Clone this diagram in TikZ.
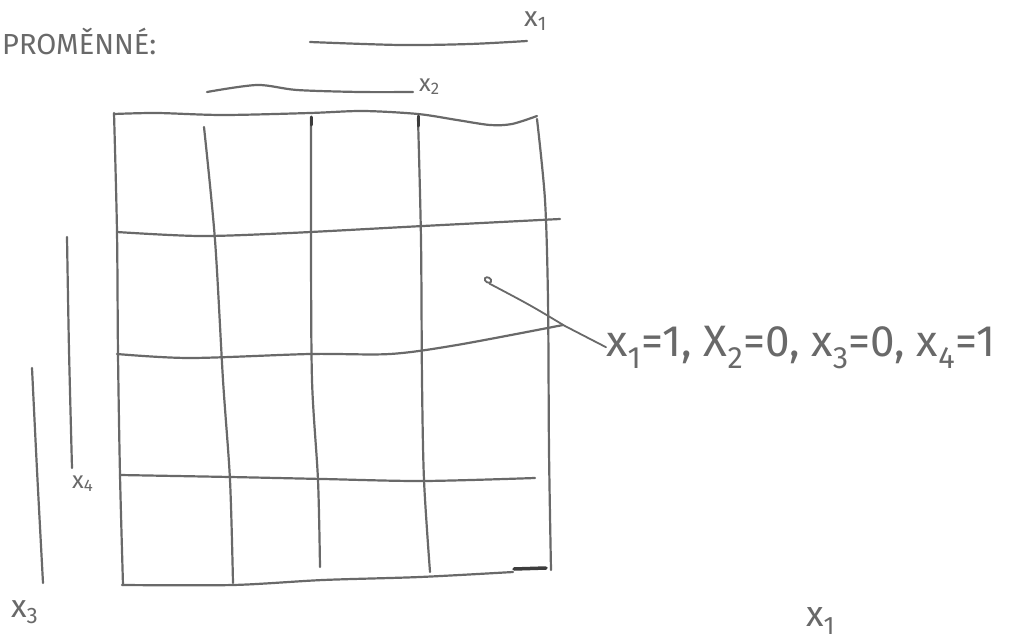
\documentclass[tikz,border=0pt]{standalone}
\usepackage{fontspec}
\setmainfont{Fira Sans}
\usetikzlibrary{shapes.geometric}
\definecolor{pencil}{RGB}{105,105,105}
\definecolor{pencildark}{RGB}{60,60,60}
\tikzset{
  sketch/.style={draw=pencil, line width=2.2pt, line cap=round, line join=round},
  hand/.style={text=pencil, inner sep=0pt, font=\fontsize{24}{28}\selectfont},
  handbig/.style={text=pencil, inner sep=0pt, font=\fontsize{44}{50}\selectfont},
}
\newcommand{\lsub}[1]{\textsubscript{#1}}
\begin{document}
\begin{tikzpicture}[x=1pt,y=-1pt]
\clip (0,0) rectangle (1010,640);
\fill[white] (0,0) rectangle (1010,640);

% title
\node[hand, anchor=base west, font=\fontsize{29}{34}\selectfont] (title) at (2,54) {PROMĚNNÉ:};

% variable bars
\draw[sketch] plot[smooth, tension=0.5] coordinates {(310,42) (400,45) (470,44) (527,41)};
\node[hand, anchor=base west, font=\fontsize{28}{32}\selectfont] (lx1) at (524,26) {x\lsub{1}};
\draw[sketch] plot[smooth, tension=0.5] coordinates {(207,92) (257,85) (297,90) (360,92) (413,92)};
\node[hand, anchor=base west] (lx2) at (419,91) {x\lsub{2}};
\draw[sketch] plot[smooth, tension=0.5] coordinates {(67,237) (69,350) (72,468)};
\node[hand, anchor=base west] (lx4) at (72,488) {x\lsub{4}};
\draw[sketch] plot[smooth, tension=0.5] coordinates {(32,368) (37,470) (43,583)};
\node[hand, anchor=base west, font=\fontsize{32}{36}\selectfont] (lx3) at (11,617) {x\lsub{3}};
\node[hand, anchor=base west, font=\fontsize{36}{40}\selectfont] (lx1b) at (806,626) {x\lsub{1}};

% grid outline
\draw[sketch] plot[smooth, tension=0.5] coordinates {(114,114) (157,113) (223,115) (310,113) (363,111) (418,114) (457,120) (490,125) (512,124) (537,116)};
\draw[sketch] plot[smooth, tension=0.5] coordinates {(114,113) (117,232) (118,354) (120,475) (123,585)};
\draw[sketch] plot[smooth, tension=0.5] coordinates {(537,119) (545,200) (548,300) (549,450) (551,570)};
\draw[sketch] plot[smooth, tension=0.5] coordinates {(122,585) (233,585) (323,580) (420,577) (513,572)};
\draw[sketch, draw=pencildark, line width=3.5pt] (514,569) -- (546,568);

% inner vertical lines
\draw[sketch] plot[smooth, tension=0.5] coordinates {(204,127) (215,240) (223,380) (230,480) (233,583)};
\draw[sketch] plot[smooth, tension=0.5] coordinates {(311,117) (311,240) (312,380) (318,480) (320,567)};
\draw[sketch] plot[smooth, tension=0.5] coordinates {(418,118) (421,240) (422,380) (424,480) (430,572)};
\draw[sketch, draw=pencildark, line width=3pt] (311,117) -- (311,125);
\draw[sketch, draw=pencildark, line width=3pt] (418,116) -- (418,126);

% inner horizontal lines
\draw[sketch] plot[smooth, tension=0.5] coordinates {(117,232) (200,236) (290,233) (423,226) (560,219)};
\draw[sketch] plot[smooth, tension=0.5] coordinates {(117,354) (190,358) (310,354) (390,354) (457,345) (563,325)};
\draw[sketch] plot[smooth, tension=0.5] coordinates {(120,475) (230,477) (323,479) (423,481) (535,478)};

% marked cell and leader
\node[draw=pencil, line width=1.8pt, ellipse, minimum width=7pt, minimum height=5pt, inner sep=0pt, rotate=-30] (dot) at (488,280) {};
\node[handbig, anchor=base west] (eq) at (606,356) {x\lsub{1}=1, X\lsub{2}=0, x\lsub{3}=0, x\lsub{4}=1};
\coordinate (bend) at (565,326);
\draw[sketch, line width=1.8pt] (dot.south east) .. controls (530,305) .. (bend) .. controls (585,336) .. (eq.west);
\end{tikzpicture}
\end{document}
